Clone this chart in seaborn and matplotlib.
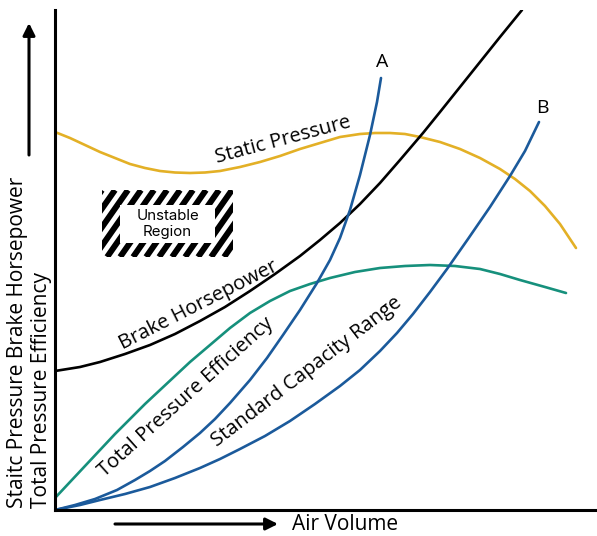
import numpy as np
import pandas as pd
import matplotlib
matplotlib.use("Agg")
import matplotlib.pyplot as plt
import seaborn as sns
from matplotlib.patches import Rectangle

# Curves (x = air volume, y = value, arbitrary units)
static_x = [0, 15, 30, 45, 60, 75, 90, 105, 120, 135, 150, 165, 185, 205, 225, 245,
            265, 285, 305, 320, 335, 350, 365, 385, 405, 425, 445, 460, 475, 490, 505, 521]
static_y = [378, 372, 365, 358, 352, 346, 342, 339, 337.5, 337, 337.5, 339, 343, 348, 354, 361,
            367, 373, 376, 377, 377, 376, 373, 368, 361, 352, 341, 331, 319, 304, 286, 262]

bhp_x = [0, 25, 45, 70, 95, 120, 145, 170, 195, 220, 245, 265, 285, 305, 325, 345,
         368, 385, 405, 425, 445, 467]
bhp_y = [139, 143, 148, 156, 165, 176, 189, 203, 219, 236, 254, 270, 287, 306, 327, 350,
         377, 398, 423, 448, 473, 500]

tpe_x = [0, 15, 30, 45, 60, 75, 90, 105, 120, 135, 155, 175, 195, 215, 235, 255,
         275, 300, 325, 350, 375, 400, 425, 445, 465, 490, 511]
tpe_y = [12, 28, 44, 60, 76, 91, 106, 120, 134, 148, 165, 182, 197, 209, 219, 226,
         232, 238, 242, 244, 245, 244, 241, 236, 230, 223, 217]

a_x = [0, 20, 40, 62, 80, 95, 110, 128, 145, 160, 175, 195, 212, 228, 245, 262,
       275, 285, 295, 305, 315, 322, 326]
a_y = [0, 5, 11, 20, 30, 39, 49, 63, 77, 91, 107, 130, 152, 175, 200, 227,
       250, 272, 300, 335, 375, 408, 432]

b_x = [0, 25, 45, 70, 95, 120, 145, 165, 185, 210, 235, 260, 285, 305, 325, 342,
       358, 375, 392, 413, 435, 455, 470, 484]
b_y = [0, 5, 10, 16, 23, 32, 42, 51, 61, 74, 89, 106, 124, 140, 159, 177,
       196, 218, 241, 271, 303, 334, 359, 388]

curves = [
    ("Static Pressure", static_x, static_y, "#E3B026"),
    ("Brake Horsepower", bhp_x, bhp_y, "#000000"),
    ("Total Pressure Efficiency", tpe_x, tpe_y, "#16907C"),
    ("A", a_x, a_y, "#1B5A9B"),
    ("B", b_x, b_y, "#1B5A9B"),
]

sns.set_style("white")
plt.rcParams["font.family"] = ["Open Sans", "DejaVu Sans"]
plt.rcParams["text.color"] = "black"

fig = plt.figure(figsize=(5.97, 5.36), dpi=100)
ax = fig.add_axes([55 / 597, 26 / 536, 542 / 597, 500 / 536])

for name, xs, ys, col in curves:
    df = pd.DataFrame({"x": xs, "y": ys})
    sns.lineplot(data=df, x="x", y="y", color=col, lw=1.9, ax=ax,
                 sort=False, estimator=None, solid_joinstyle="round")

ax.set_xlim(0, 542)
ax.set_ylim(0, 500)
ax.set_xticks([])
ax.set_yticks([])
ax.set_xlabel("")
ax.set_ylabel("")
for s in ["top", "right"]:
    ax.spines[s].set_visible(False)
for s in ["left", "bottom"]:
    ax.spines[s].set_color("black")
    ax.spines[s].set_linewidth(2.2)

# curve labels
fs = 14.5
ax.text(228, 370, "Static Pressure", rotation=15, fontsize=fs,
        ha="center", va="center", rotation_mode="anchor")
ax.text(144, 205, "Brake Horsepower", rotation=27, fontsize=fs,
        ha="center", va="center", rotation_mode="anchor")
ax.text(131, 113, "Total Pressure Efficiency", rotation=42, fontsize=fs,
        ha="center", va="center", rotation_mode="anchor")
ax.text(252, 138, "Standard Capacity Range", rotation=37.5, fontsize=fs,
        ha="center", va="center", rotation_mode="anchor")
ax.text(327, 448, "A", fontsize=14, ha="center", va="center")
ax.text(487, 402, "B", fontsize=14, ha="center", va="center")

# unstable region box with diagonal stripes
x0, y0, w, h = 47, 253, 131, 67
clip = Rectangle((x0, y0), w, h, transform=ax.transData)
step = 13
slope = np.tan(np.radians(55))
for k in np.arange(x0 - h / slope, x0 + w + step, step):
    ln, = ax.plot([k, k + h / slope], [y0, y0 + h], color="black", lw=4.3,
                  solid_capstyle="butt")
    ln.set_clip_path(clip)
ax.add_patch(Rectangle((65, 267), 95, 38, facecolor="white", edgecolor="none", zorder=3))
ax.text(112.5, 286, "Unstable\nRegion", fontsize=10.8, ha="center", va="center",
        linespacing=1.2, zorder=4, family=["Inter", "DejaVu Sans"])

# axis arrows and labels
ax.annotate("", xy=(-26, 487), xytext=(-26, 355), annotation_clip=False,
            arrowprops=dict(arrowstyle="-|>", color="black", lw=2.2,
                            mutation_scale=18, shrinkA=0, shrinkB=0))
ax.annotate("", xy=(223, -14), xytext=(60, -14), annotation_clip=False,
            arrowprops=dict(arrowstyle="-|>", color="black", lw=2.2,
                            mutation_scale=18, shrinkA=0, shrinkB=0))
ax.text(237, -14, "Air Volume", fontsize=15, ha="left", va="center", clip_on=False)
ax.text(-37, 2, "Staitc Pressure Brake Horsepower", fontsize=15, rotation=90,
        ha="left", va="center", rotation_mode="anchor", clip_on=False)
ax.text(-13, 2, "Total Pressure Efficiency", fontsize=15, rotation=90,
        ha="left", va="center", rotation_mode="anchor", clip_on=False)

fig.savefig("out.png", dpi=100)
